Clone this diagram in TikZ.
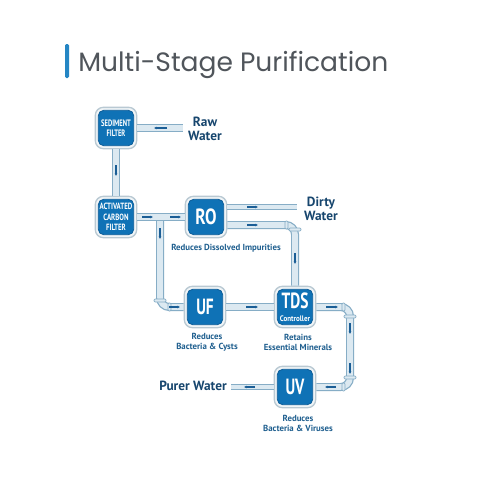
\documentclass[tikz,border=0pt]{standalone}
\usepackage{fontspec}
\setmainfont{PT Sans}
\newfontfamily\titlefont{Poppins}
\definecolor{navy}{HTML}{17466E}
\definecolor{capblue}{HTML}{1F5F8F}
\definecolor{boxblue}{HTML}{0F72B6}
\definecolor{boxedge}{HTML}{0B5C98}
\definecolor{shell}{HTML}{F1F5F7}
\definecolor{shelledge}{HTML}{B9C9D3}
\definecolor{pipeedge}{HTML}{86ADC6}
\definecolor{pipefill}{HTML}{DCE9F1}
\definecolor{arrowblue}{HTML}{1B5E96}
\definecolor{titlegray}{HTML}{50555B}
\definecolor{barblue}{HTML}{2586C4}
\usetikzlibrary{arrows.meta}
\tikzset{
  x=0.75pt,y=-0.75pt,
  shellbox/.style={draw=shelledge,fill=shell,line width=1pt,rounded corners=6pt,minimum width=31pt,minimum height=31pt,inner sep=0pt},
  corebox/.style={draw=boxedge,fill=boxblue,line width=0.6pt,rounded corners=4pt,minimum width=26.5pt,minimum height=26.5pt,inner sep=0pt,text=white,align=center,font=\bfseries},
  pipe/.style={draw=pipeedge,double=pipefill,double distance=4.2pt,line width=0.9pt,rounded corners=7pt},
  thinpipe/.style={draw=pipeedge,double=pipefill,double distance=3.2pt,line width=0.8pt},
  flow/.style={draw=arrowblue,line width=0.9pt,-{Latex[length=2pt,width=2.2pt]}},
  collar/.style={draw=pipeedge,fill=pipefill,line width=0.5pt,rounded corners=0.8pt},
  caption/.style={text=capblue,font=\bfseries\fontsize{6.6}{7.6}\selectfont,align=center,inner sep=0pt},
  water/.style={text=navy,font=\bfseries\fontsize{10}{10.5}\selectfont,align=center,inner sep=0pt},
}
\begin{document}
\begin{tikzpicture}
\useasboundingbox (0,0) rectangle (500,500);
\fill[white] (0,0) rectangle (500,500);
\fill[barblue,rounded corners=1pt] (65,44) rectangle (69,78);
\node[anchor=west,inner sep=0pt,text=titlegray,font=\titlefont\fontsize{19.9}{24}\selectfont] (title) at (78,65) {Multi-Stage Purification};

% coordinates of the pipe runs
\coordinate (rawend) at (183,128);
\coordinate (tee) at (160,217);
\coordinate (dirtyend) at (297,207);
\coordinate (rocorner) at (295,225);
\coordinate (uvcorner) at (350,387);
\coordinate (pureend) at (231,387);

% box shells first, so that the names exist
\node[shellbox] (sed) at (116,128) {};
\node[shellbox] (acf) at (116,217) {};
\node[shellbox] (ro) at (206,217) {};
\node[shellbox] (uf) at (205,307) {};
\node[shellbox] (tds) at (295,307) {};
\node[shellbox] (uv) at (295,387) {};

% pipes
\draw[pipe] (sed.east) -- (rawend);
\draw[pipe] (sed.south) -- (acf.north);
\draw[pipe] (tee) |- (uf.west);
\draw[pipe] (acf.east) -- (ro.west);
\draw[thinpipe] (ro.east |- dirtyend) -- (dirtyend);
\draw[pipe] (ro.east |- rocorner) -| (tds.north);
\draw[pipe] (uf.east) -- (tds.west);
\draw[pipe] (tds.east) -| (uvcorner) -- (uv.east);
\draw[thinpipe] (uv.west) -- (pureend);

% elbow collars
\draw[collar] (289,228) rectangle (301,231);
\draw[collar] (285,221) rectangle (288,229);
\draw[collar] (342,303) rectangle (345,311);
\draw[collar] (344,315) rectangle (356,318);
\draw[collar] (344,376) rectangle (356,379);
\draw[collar] (342,383) rectangle (345,391);
\draw[collar] (154,299) rectangle (166,302);
\draw[collar] (168,303) rectangle (171,311);

% flow marks
\draw[flow] (167,128) -- (154,128);
\draw[flow] (116,165) -- (116,176);
\draw[flow] (142,217) -- (153,217);
\draw[flow] (170,217) -- (181,217);
\draw[flow] (160,228) -- (160,239);
\draw[flow] (169,307) -- (180,307);
\draw[flow] (247,207) -- (258,207);
\draw[flow] (247,225) -- (258,225);
\draw[flow] (295,253) -- (295,264);
\draw[flow] (246,307) -- (258,307);
\draw[flow] (326,307) -- (338,307);
\draw[flow] (350,323) -- (350,334);
\draw[flow] (350,363) -- (350,374);
\draw[flow] (336,387) -- (325,387);
\draw[flow] (255,387) -- (244,387);

% box faces
\node[corebox,font=\bfseries\fontsize{7}{8}\selectfont] (sedc) at (sed.center) {\scalebox{0.70}[1]{SEDIMENT}\\\scalebox{0.70}[1]{FILTER}};
\node[corebox,font=\bfseries\fontsize{6.8}{8}\selectfont] (acfc) at (acf.center) {\scalebox{0.76}[1]{ACTIVATED}\\\scalebox{0.76}[1]{CARBON}\\\scalebox{0.76}[1]{FILTER}};
\node[corebox,font=\bfseries\fontsize{16.5}{17}\selectfont] (roc) at (ro.center) {\scalebox{0.78}[1]{RO}};
\node[corebox,font=\bfseries\fontsize{16.5}{17}\selectfont] (ufc) at (uf.center) {\scalebox{0.7}[1]{UF}};
\node[corebox,font=\bfseries\fontsize{16.5}{17}\selectfont] (uvc) at (uv.center) {\scalebox{0.7}[1]{UV}};
\node[corebox] (tdsc) at (tds.center) {\fontsize{16.5}{15}\selectfont\scalebox{0.7}[1]{TDS}\\[-2.5pt]\fontsize{6}{7}\selectfont\scalebox{0.88}[1]{Controller}};

% labels
\node[water] (rawl) at (205,129) {Raw\\Water};
\node[water] (dirtyl) at (321,209) {Dirty\\Water};
\node[water,anchor=east] (purel) at (227,386) {Purer Water};
\node[caption] (rocap) at (226,248.5) {Reduces Dissolved Impurities};
\node[caption] (ufcap) at (207,342) {Reduces\\Bacteria \& Cysts};
\node[caption] (tdscap) at (298,342) {Retains\\Essential Minerals};
\node[caption] (uvcap) at (298,423) {Reduces\\Bacteria \& Viruses};
\end{tikzpicture}
\end{document}
